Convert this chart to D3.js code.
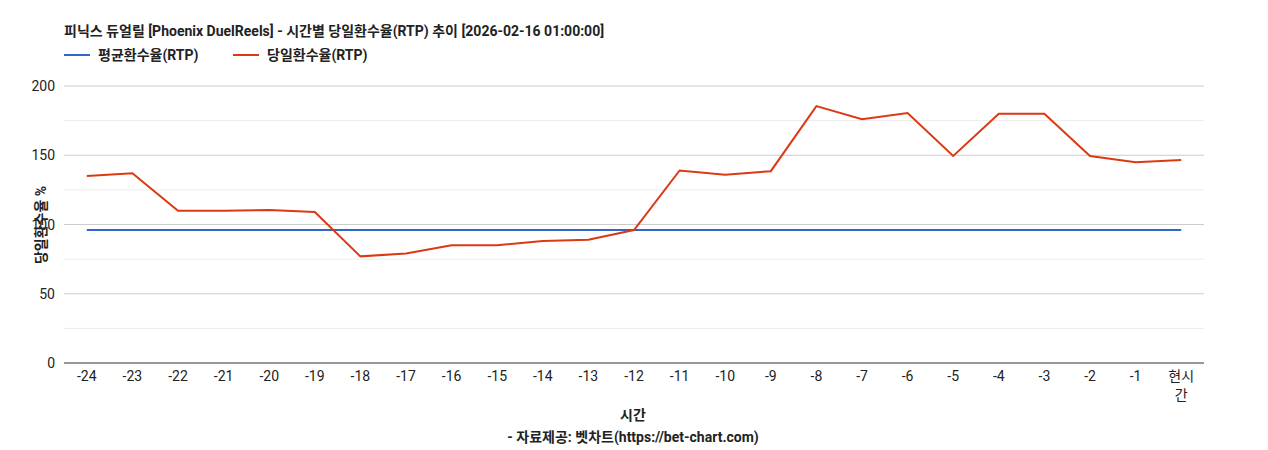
<!DOCTYPE html><html><head><meta charset="utf-8"><script src="https://cdn.jsdelivr.net/npm/d3@7"></script>
<style>body{margin:0;background:#fff;font-family:Roboto,"Noto Sans CJK KR",sans-serif}</style></head><body><svg id="c" width="1268" height="450"></svg><script>
const categories=["-24","-23","-22","-21","-20","-19","-18","-17","-16","-15","-14","-13","-12","-11","-10","-9","-8","-7","-6","-5","-4","-3","-2","-1","현시간"];
const dailyRTP=[135,137,110,110,110.5,109,77,79,85,85,88,89,96,139,136,138.5,185.5,176,180.5,149.5,180,180,149.5,145,146.5];
const avgRTP=categories.map(()=>96);
const yTicks=[0,50,100,150,200];
const svg=d3.select("#c");
const L=64,R=1204,T=86,B=363;
const x=d3.scalePoint().domain(categories).range([L,R]).padding(0.5);
const y=d3.scaleLinear().domain([0,200]).range([B,T]);
const f='Roboto,"Noto Sans CJK KR",sans-serif';
for(let v=25;v<200;v+=50)svg.append("line").attr("x1",L).attr("x2",R).attr("y1",y(v)).attr("y2",y(v)).attr("stroke","#ebebeb");
yTicks.forEach(v=>{svg.append("line").attr("x1",L).attr("x2",R).attr("y1",y(v)).attr("y2",y(v)).attr("stroke",v==0?"#333":"#ccc");
svg.append("text").attr("x",L-9).attr("y",y(v)+5).attr("text-anchor","end").attr("font-size",14).attr("fill","#222").attr("font-family",f).text(v);});
categories.forEach(c=>{const t=svg.append("text").attr("text-anchor","middle").attr("font-size",14).attr("fill","#222").attr("font-family",f);
if(c==="현시간"){t.append("tspan").attr("x",x(c)).attr("y",381).text("현시");t.append("tspan").attr("x",x(c)).attr("y",400).text("간");}
else t.attr("x",x(c)).attr("y",381).text(c);});
const line=d3.line().x((d,i)=>x(categories[i])).y(d=>y(d));
svg.append("path").attr("d",line(avgRTP)).attr("fill","none").attr("stroke","#3366cc").attr("stroke-width",2);
svg.append("path").attr("d",line(dailyRTP)).attr("fill","none").attr("stroke","#dc3912").attr("stroke-width",2);
svg.append("text").attr("x",64).attr("y",36).attr("font-size",14).attr("font-weight","bold").attr("font-family",f).attr("fill","#222").text("피닉스 듀얼릴 [Phoenix DuelReels] - 시간별 당일환수율(RTP) 추이 [2026-02-16 01:00:00]");
[["평균환수율(RTP)","#3366cc",64],["당일환수율(RTP)","#dc3912",233]].forEach(([n,c,lx])=>{
svg.append("line").attr("x1",lx).attr("x2",lx+26).attr("y1",55).attr("y2",55).attr("stroke",c).attr("stroke-width",2);
svg.append("text").attr("x",lx+34).attr("y",60).attr("font-size",14).attr("font-weight","bold").attr("font-family",f).attr("fill","#222").text(n);});
svg.append("text").attr("transform","translate(46,225) rotate(-90)").attr("text-anchor","middle").attr("font-size",14).attr("font-weight","bold").attr("font-family",f).attr("fill","#222").text("당일환수율 %");
svg.append("text").attr("x",633).attr("y",420).attr("text-anchor","middle").attr("font-size",14).attr("font-weight","bold").attr("font-family",f).attr("fill","#222").text("시간");
svg.append("text").attr("x",633).attr("y",442).attr("text-anchor","middle").attr("font-size",14).attr("font-weight","bold").attr("font-family",f).attr("fill","#222").text("- 자료제공: 벳차트(https://bet-chart.com)");
</script></body></html>
